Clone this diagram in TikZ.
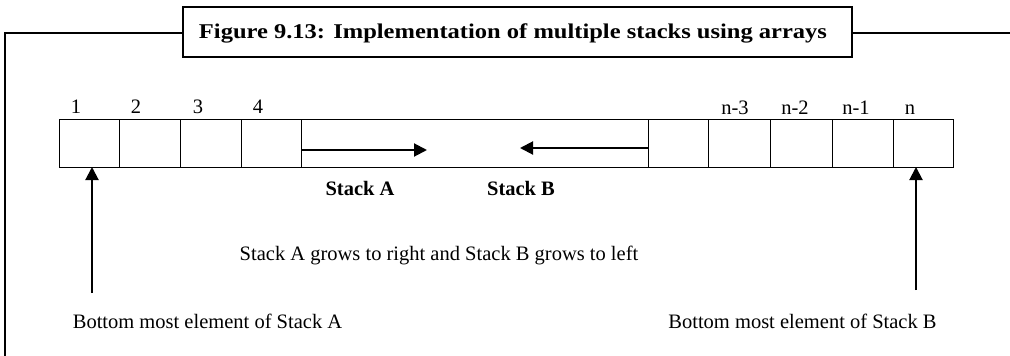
\documentclass[tikz,border=0pt]{standalone}
\usepackage{fontspec}
\setmainfont{Liberation Serif}
\usetikzlibrary{arrows.meta}
\begin{document}
\begin{tikzpicture}[x=1pt,y=-1pt,
  frame/.style={line width=2.6pt},
  cellbox/.style={draw,line width=1pt,inner sep=0pt,outer sep=0pt,minimum height=48pt},
  txt/.style={inner sep=0pt,anchor=base,font=\fontsize{20.5}{24}\selectfont},
  btxt/.style={inner sep=0pt,anchor=base,font=\fontsize{20.5}{24}\selectfont\bfseries},
  arr/.style={line width=2pt,-{Triangle[length=13pt,width=13pt]}}]
\useasboundingbox (0,0) rectangle (1010,356);
% frame and title
\node[draw,frame,inner sep=0pt,minimum width=669pt,minimum height=50pt] (title) at (517.5,32) {};
\node[inner sep=0pt,anchor=base] (ttext) at (513,38.5)
  {\resizebox{628pt}{\height}{\fontsize{21}{24}\selectfont\bfseries Figure 9.13: Implementation of multiple stacks using arrays}};
\coordinate (fbl) at (5,356);
\coordinate (ftl) at (5,33);
\coordinate (fr) at (1010,33);
\draw[frame] (fbl) -- (ftl) -- (ftl -| title.west);
\draw[frame] (title.east |- fr) -- (fr);
% cells
\node[cellbox,minimum width=60pt] (c1) at (89,143) {};
\node[cellbox,minimum width=61pt] (c2) at (149.5,143) {};
\node[cellbox,minimum width=61pt] (c3) at (210.5,143) {};
\node[cellbox,minimum width=60pt] (c4) at (271,143) {};
\node[cellbox,minimum width=60pt] (r1) at (678,143) {};
\node[cellbox,minimum width=62pt] (r2) at (739,143) {};
\node[cellbox,minimum width=62pt] (r3) at (801,143) {};
\node[cellbox,minimum width=61pt] (r4) at (862.5,143) {};
\node[cellbox,minimum width=60pt] (r5) at (923,143) {};
\draw[line width=1pt] (c4.north east) -- (r1.north west);
\draw[line width=1pt] (c4.south east) -- (r1.south west);
% index labels
\node[txt] (l1) at (76,113) {1};
\node[txt] (l2) at (136,113) {2};
\node[txt] (l3) at (198,113) {3};
\node[txt] (l4) at (258,113) {4};
\node[txt] (ln3) at (735,114) {n-3};
\node[txt] (ln2) at (795,114) {n-2};
\node[txt] (ln1) at (856,114) {n-1};
\node[txt] (ln) at (910,114) {n};
% growth arrows
\coordinate (aS) at (301,150);
\coordinate (aE) at (427,150);
\coordinate (bS) at (648,148);
\coordinate (bE) at (520,148);
\draw[arr] (aS) -- (aE);
\draw[arr] (bS) -- (bE);
\node[btxt] (sa) at (360,195) {Stack A};
\node[btxt] (sb) at (521,195) {Stack B};
\node[txt] (grow) at (439,260) {Stack A grows to right and Stack B grows to left};
% bottom arrows
\coordinate (ua) at (92,293);
\coordinate (ub) at (916,290);
\draw[arr] (ua) -- (ua |- c1.south);
\draw[arr] (ub) -- (ub |- r5.south);
\node[txt] (ba) at (207.5,328) {Bottom most element of Stack A};
\node[txt] (bb) at (802.5,328) {Bottom most element of Stack B};
\end{tikzpicture}
\end{document}
